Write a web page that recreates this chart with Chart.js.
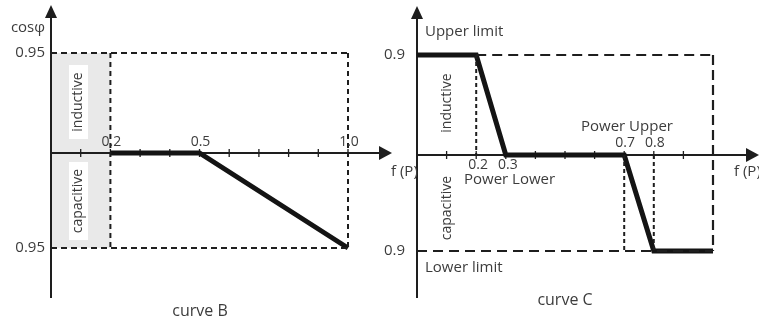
<!DOCTYPE html>
<html>
<head>
<meta charset="utf-8">
<script src="https://cdn.jsdelivr.net/npm/chart.js@4.4.0/dist/chart.umd.min.js"></script>
<style>
  body { margin: 0; background: #fff; width: 759px; height: 322px; position: relative; overflow: hidden; }
  .wrap { position: absolute; top: 0; height: 322px; }
  #wrapB { left: 0; width: 395px; }
  #wrapC { left: 378px; width: 381px; }
</style>
</head>
<body>
<div class="wrap" id="wrapB"><canvas id="curveB" width="395" height="322"></canvas></div>
<div class="wrap" id="wrapC"><canvas id="curveC" width="381" height="322"></canvas></div>
<script>
// ---- curve B data ----
const bPower = [0.2, 0.5, 1.0];
const bCos = [0, 0, -0.95];
const bUpper = 1;
const bLower = -0.95;
const bTicks = [0.1, 0.2, 0.3, 0.4, 0.5, 0.6, 0.7, 0.8, 0.9, 1.0];
const bTickLabelAt = [0.2, 0.5, 1.0];
const bTickLabels = ['0.2', '0.5', '1.0'];
const bLimitLabels = ['0.95', '0.95'];
const bShadeTo = 0.2;

// ---- curve C data ----
const cPower = [0, 0.2, 0.3, 0.7, 0.8, 1.0];
const cCos = [1, 1, 0, 0, -0.96, -0.96];
const cUpper = 1;
const cLower = -0.96;
const cTicks = [0.1, 0.2, 0.3, 0.4, 0.5, 0.6, 0.7, 0.8, 0.9];
const cLowAt = [0.2, 0.3];
const cLowLabels = ['0.2', '0.3'];
const cHighAt = [0.7, 0.8];
const cHighLabels = ['0.7', '0.8'];
const cLimitLabels = ['0.9', '0.9'];

const FONT = '"Open Sans", sans-serif';
const TEXT = '#3c3c3c';
const INK = '#1e1e1e';

// one straight segment as a dataset
function seg(x1, y1, x2, y2, dash, width) {
  return {
    data: [{ x: x1, y: y1 }, { x: x2, y: y2 }],
    borderColor: INK,
    borderWidth: width || 1.8,
    borderDash: dash || [],
    pointRadius: 0,
    fill: false,
    tension: 0,
    clip: false
  };
}

function curve(xs, ys) {
  return {
    data: xs.map((x, i) => ({ x: x, y: ys[i] })),
    borderColor: '#141414',
    borderWidth: 5,
    borderJoinStyle: 'miter',
    pointRadius: 0,
    fill: false,
    tension: 0,
    clip: false
  };
}

function text(ctx, s, x, y, align, size) {
  ctx.font = (size || 13) + 'px ' + FONT;
  ctx.fillStyle = TEXT;
  ctx.textAlign = align || 'center';
  ctx.textBaseline = 'middle';
  ctx.fillText(s, x, y);
}

function vtext(ctx, s, x, y, size) {
  ctx.save();
  ctx.translate(x, y);
  ctx.rotate(-Math.PI / 2);
  text(ctx, s, 0, 0, 'center', size);
  ctx.restore();
}

// axes with arrow heads, crossing at (0, 0)
function axes(ctx, x0, y0, yTop, yBottom, xRight) {
  ctx.save();
  ctx.strokeStyle = INK;
  ctx.fillStyle = INK;
  ctx.lineWidth = 2;
  ctx.beginPath();
  ctx.moveTo(x0, yTop + 12);
  ctx.lineTo(x0, yBottom);
  ctx.moveTo(x0, y0);
  ctx.lineTo(xRight - 12, y0);
  ctx.stroke();
  ctx.beginPath();
  ctx.moveTo(x0, yTop);
  ctx.lineTo(x0 - 6, yTop + 13);
  ctx.lineTo(x0 + 6, yTop + 13);
  ctx.closePath();
  ctx.fill();
  ctx.beginPath();
  ctx.moveTo(xRight, y0);
  ctx.lineTo(xRight - 13, y0 - 7);
  ctx.lineTo(xRight - 13, y0 + 7);
  ctx.closePath();
  ctx.fill();
  ctx.restore();
}

function tickMarks(ctx, xs, y0) {
  ctx.save();
  ctx.strokeStyle = INK;
  ctx.lineWidth = 1.3;
  ctx.beginPath();
  xs.forEach(px => {
    ctx.moveTo(px, y0 - 4);
    ctx.lineTo(px, y0 + 4);
  });
  ctx.stroke();
  ctx.restore();
}

// ---- curve B ----
const bDecor = {
  id: 'bDecor',
  beforeDatasetsDraw(chart) {
    const ctx = chart.ctx, sx = chart.scales.x, sy = chart.scales.y;
    const x0 = sx.getPixelForValue(0), y0 = sy.getPixelForValue(0);
    const yu = sy.getPixelForValue(bUpper), yl = sy.getPixelForValue(bLower);
    // shaded band
    ctx.fillStyle = '#e9e9e9';
    ctx.fillRect(x0, yu, sx.getPixelForValue(bShadeTo) - x0, yl - yu);
    ctx.fillStyle = '#fff';
    ctx.fillRect(69, 65, 19, 74);
    ctx.fillRect(69, 162, 19, 78);
    axes(ctx, x0, y0, 5, 298, 392);
    tickMarks(ctx, bTicks.map(v => sx.getPixelForValue(v)), y0);
  },
  afterDraw(chart) {
    const ctx = chart.ctx, sx = chart.scales.x, sy = chart.scales.y;
    const y0 = sy.getPixelForValue(0);
    vtext(ctx, 'inductive', 78, 102, 14);
    vtext(ctx, 'capacitive', 78, 201, 14);
    text(ctx, 'cosφ', 45, 28, 'right', 15);
    text(ctx, bLimitLabels[0], 45, sy.getPixelForValue(bUpper), 'right', 15);
    text(ctx, bLimitLabels[1], 45, sy.getPixelForValue(bLower), 'right', 15);
    bTickLabelAt.forEach((v, i) => text(ctx, bTickLabels[i], sx.getPixelForValue(v) + 1, y0 - 11, 'center', 14));
    text(ctx, 'curve B', 200, 311, 'center', 16);
  }
};

new Chart(document.getElementById('curveB'), {
  type: 'line',
  data: {
    datasets: [
      seg(0, bUpper, 1.0, bUpper, [6, 4], 2),
      seg(0, bLower, 1.0, bLower, [6, 4], 2),
      seg(bShadeTo, bUpper, bShadeTo, bLower, [5, 4], 2),
      seg(1.0, bUpper, 1.0, bLower, [5, 4], 2),
      curve(bPower, bCos)
    ]
  },
  options: {
    responsive: false,
    animation: false,
    devicePixelRatio: 1,
    layout: { padding: { left: 51, right: 47, top: 53, bottom: 74 } },
    plugins: { legend: { display: false }, tooltip: { enabled: false } },
    scales: {
      x: { type: 'linear', display: false, min: 0, max: 1.0 },
      y: { type: 'linear', display: false, min: bLower, max: bUpper }
    }
  },
  plugins: [bDecor]
});

// ---- curve C ----
const cDecor = {
  id: 'cDecor',
  beforeDatasetsDraw(chart) {
    const ctx = chart.ctx, sx = chart.scales.x, sy = chart.scales.y;
    const x0 = sx.getPixelForValue(0), y0 = sy.getPixelForValue(0);
    axes(ctx, x0, y0, 6, 298, 381);
    tickMarks(ctx, cTicks.map(v => sx.getPixelForValue(v)), y0);
  },
  afterDraw(chart) {
    const ctx = chart.ctx, sx = chart.scales.x, sy = chart.scales.y;
    const y0 = sy.getPixelForValue(0);
    text(ctx, 'Upper limit', 47, 32, 'left', 15);
    text(ctx, 'Lower limit', 47, 268, 'left', 15);
    text(ctx, cLimitLabels[0], 27, sy.getPixelForValue(cUpper), 'right', 15);
    text(ctx, cLimitLabels[1], 27, sy.getPixelForValue(cLower), 'right', 15);
    text(ctx, 'f (P)', 13, y0 + 17, 'left', 15);
    text(ctx, 'f (P)', 356, y0 + 17, 'left', 15);
    vtext(ctx, 'inductive', 69, 103, 14);
    vtext(ctx, 'capacitive', 69, 208, 14);
    cLowAt.forEach((v, i) => text(ctx, cLowLabels[i], sx.getPixelForValue(v) + 2, y0 + 10, 'center', 14));
    cHighAt.forEach((v, i) => text(ctx, cHighLabels[i], sx.getPixelForValue(v) + 1, y0 - 12, 'center', 14));
    text(ctx, 'Power Lower', 86, y0 + 25, 'left', 15);
    text(ctx, 'Power Upper', 203, y0 - 28, 'left', 15);
    text(ctx, 'curve C', 187, 300, 'center', 16);
  }
};

new Chart(document.getElementById('curveC'), {
  type: 'line',
  data: {
    datasets: [
      seg(0.2, cUpper, 1.0, cUpper, [10, 6], 2),
      seg(0, cLower, 1.0, cLower, [10, 6], 2),
      seg(1.0, cUpper, 1.0, cLower, [10, 5], 2.2),
      seg(0.2, cUpper, 0.2, 0, [4, 3], 2),
      seg(0.7, 0, 0.7, cLower, [4, 3], 2),
      seg(0.8, 0, 0.8, cLower, [4, 3], 2),
      curve(cPower, cCos)
    ]
  },
  options: {
    responsive: false,
    animation: false,
    devicePixelRatio: 1,
    layout: { padding: { left: 39, right: 46, top: 55, bottom: 71 } },
    plugins: { legend: { display: false }, tooltip: { enabled: false } },
    scales: {
      x: { type: 'linear', display: false, min: 0, max: 1.0 },
      y: { type: 'linear', display: false, min: cLower, max: cUpper }
    }
  },
  plugins: [cDecor]
});
</script>
</body>
</html>
